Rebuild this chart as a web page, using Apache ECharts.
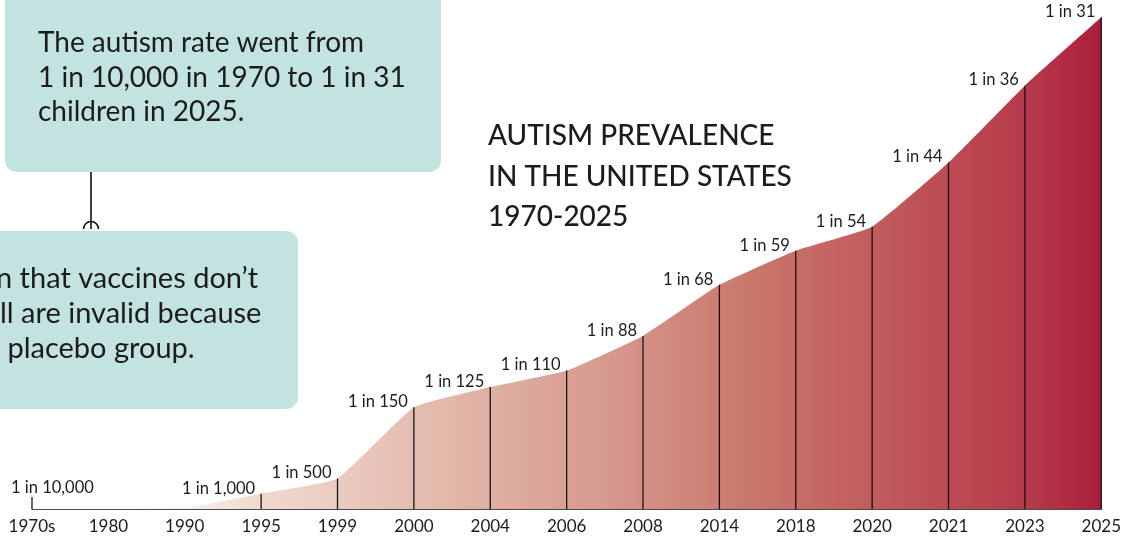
<!DOCTYPE html>
<html>
<head>
<meta charset="utf-8">
<script src="https://cdn.jsdelivr.net/npm/echarts@6/dist/echarts.min.js"></script>
<style>
html,body{margin:0;padding:0;background:#fff;}
#chart{width:1124px;height:538px;}
</style>
</head>
<body>
<div id="chart"></div>
<script>
// ---- data ----
const categories = ['1970s','1980','1990','1995','1999','2000','2004','2006','2008','2014','2018','2020','2021','2023','2025'];
// prevalence per 10,000 children
const ratePer10k = [1, 1, 1, 10, 20, 66.7, 80, 90.9, 113.6, 147.1, 169.5, 185.2, 227.3, 277.8, 322.6];
const rateLabels = ['1 in 10,000','','','1 in 1,000','1 in 500','1 in 150','1 in 125','1 in 110','1 in 88','1 in 68','1 in 59','1 in 54','1 in 44','1 in 36','1 in 31'];
const titleLines = ['AUTISM PREVALENCE','IN THE UNITED STATES','1970-2025'];
const noteLines = ['The autism rate went from','1 in 10,000 in 1970 to 1 in 31','children in 2025.'];
const note2Lines = ['n that vaccines don\u2019t','ll are invalid because',' placebo group.'];

const FONT = 'Lato, "Noto Sans", sans-serif';
const chart = echarts.init(document.getElementById('chart'), null, {renderer:'canvas'});

const lineData = ratePer10k.map((v, i) => {
  const item = {value: v};
  if (i === 0) item.label = {align: 'left', offset: [-21, -11]};
  return item;
});
const stemData = ratePer10k.map((v, i) => rateLabels[i] ? v : null);

const gradStops = [
  [0.0, '#ffffff'], [130, '#ffffff'], [200, '#f8ebe6'], [263, '#f0d8ce'], [339, '#eacbc0'],
  [450, '#e2b7aa'], [600, '#d79a8f'], [750, '#c9776d'], [900, '#bf5659'],
  [1026, '#b63a4b'], [1103, '#ab1d3a']
].map(s => ({offset: s[0] <= 1 ? s[0] : s[0] / 1124, color: s[1]}));

const graphics = [];
// note box 1
graphics.push({type:'rect', shape:{x:5, y:-20, width:436, height:192, r:12}, style:{fill:'#c3e3e1'}, z:10});
noteLines.forEach((t, i) => graphics.push({type:'text', x:38, y:43 + i*34.5, style:{text:t, font:'400 28px ' + FONT, fill:'#1c1c1c', textVerticalAlign:'middle'}, z:11}));
// connector
graphics.push({type:'line', shape:{x1:91, y1:172, x2:91, y2:229}, style:{stroke:'#111', lineWidth:1.6}, z:10});
graphics.push({type:'arc', shape:{cx:91, cy:229, r:7.5, startAngle:Math.PI, endAngle:2*Math.PI}, style:{stroke:'#111', lineWidth:1.6, fill:null}, z:10});
// note box 2
graphics.push({type:'rect', shape:{x:-20, y:231, width:318, height:178, r:12}, style:{fill:'#c3e3e1'}, z:10});
const note2X = [-4, 0, 0];
note2Lines.forEach((t, i) => graphics.push({type:'text', x:note2X[i], y:279 + i*35, style:{text:t, font:'400 29px ' + FONT, fill:'#1c1c1c', textVerticalAlign:'middle'}, z:11}));
// title
titleLines.forEach((t, i) => graphics.push({type:'text', x:488, y:136 + i*40.5, style:{text:t, font:'500 28px ' + FONT, fill:'#1c1c1c', textVerticalAlign:'middle'}, z:11}));

chart.setOption({
  animation: false,
  backgroundColor: '#ffffff',
  grid: {left: 32, right: 21, top: 0, bottom: 29},
  xAxis: {
    type: 'category',
    data: categories,
    boundaryGap: false,
    axisLine: {show: true, lineStyle: {color: '#111', width: 1.5}},
    axisTick: {show: false},
    axisLabel: {color: '#1c1c1c', fontFamily: FONT, fontSize: 17, margin: 9, interval: 0},
    splitLine: {show: false}
  },
  yAxis: {type: 'value', min: 0, max: 334, show: false, splitLine: {show: false}},
  series: [
    {
      type: 'line',
      data: lineData,
      smooth: 0.12,
      symbol: 'circle',
      symbolSize: 1,
      showSymbol: true,
      itemStyle: {color: 'rgba(0,0,0,0)'},
      lineStyle: {width: 0, opacity: 0},
      areaStyle: {opacity: 1, color: {type: 'linear', x: 0, y: 0, x2: 1124, y2: 0, global: true, colorStops: gradStops}},
      label: {
        show: true,
        position: 'top',
        distance: 0,
        align: 'right',
        offset: [-6, 3],
        color: '#1c1c1c',
        fontFamily: FONT,
        fontSize: 16.5,
        lineHeight: 16,
        formatter: p => rateLabels[p.dataIndex]
      },
      z: 2
    },
    {
      type: 'bar',
      data: stemData,
      barWidth: 1.3,
      barMinHeight: 12,
      itemStyle: {color: '#141414'},
      z: 3
    }
  ],
  graphic: graphics
});
</script>
</body>
</html>
